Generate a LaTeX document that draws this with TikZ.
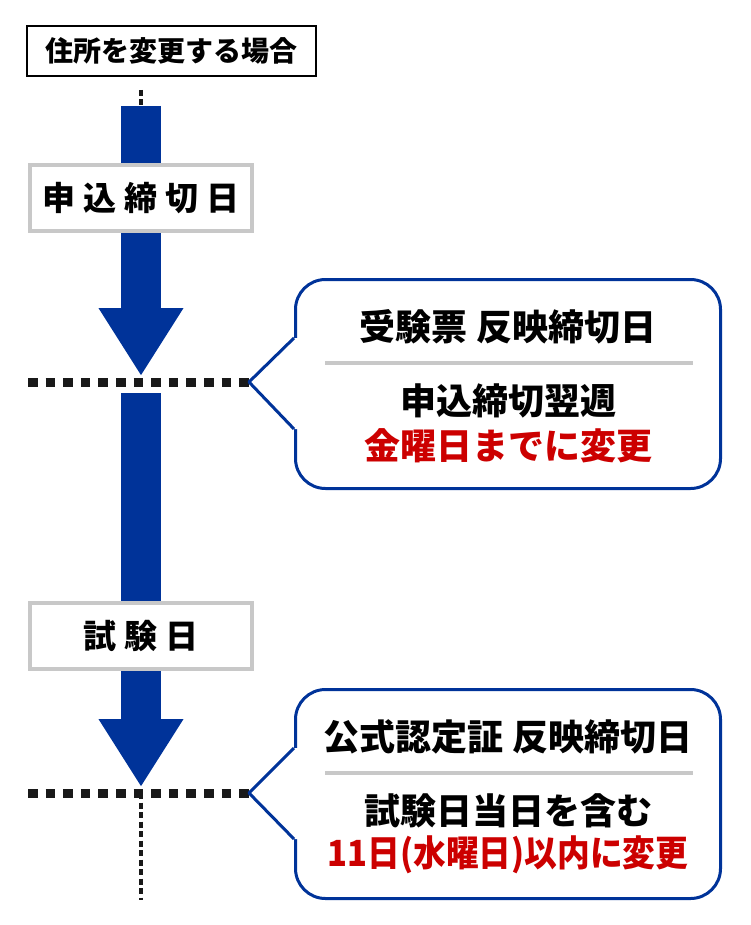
\documentclass[tikz,border=0pt]{standalone}
\usepackage{fontspec}
\setmainfont{Noto Sans CJK JP}
\usepackage{tikz}
\usetikzlibrary{arrows.meta,positioning}
\definecolor{deepblue}{RGB}{0,51,153}
\definecolor{alertred}{RGB}{204,0,0}
\definecolor{boxgray}{RGB}{200,200,200}
\tikzset{
x=1pt, y=-1pt, % pixel units, y runs downwards
timeline/.style={draw=deepblue, line width=40pt, -{Triangle[width=80pt,length=68pt]}}, % the thick blue arrows
bigdots/.style={draw=black!90, line width=9pt, dash pattern=on 9.6pt off 8pt}, % dotted date line
smalldots/.style={draw=black!90, line width=4.5pt, dash pattern=on 6pt off 3.5pt}, % thin dotted line
heading/.style={draw=black, line width=1.5pt, fill=white, minimum width=289pt, minimum height=50pt, font=\bfseries\fontsize{28}{32}\selectfont},
stage/.style={draw=boxgray, line width=4pt, fill=white, minimum width=222pt, minimum height=66pt, font=\bfseries\fontsize{33}{40}\selectfont\addfontfeature{LetterSpace=24}},
note/.style={draw=deepblue, line width=3pt, fill=white, rounded corners=30pt, minimum width=425pt, minimum height=209pt}, % the callouts
notetext/.style={inner sep=0pt, font=\bfseries\fontsize{36}{42}\selectfont},
sepline/.style={draw=boxgray, line width=4pt},
}

\begin{document}
\begin{tikzpicture}
    \useasboundingbox (0,0) rectangle (750,925);
    \node[heading] (head) at (171.5,51) {住所を変更する場合};
    \coordinate (dots) at (141,90);
    \coordinate (start) at (141,106);
    \coordinate (tip1) at (141,376);
    \coordinate (resume) at (141,393);
    \coordinate (tip2) at (141,787);
    \coordinate (left1) at (28,382);
    \coordinate (point1) at (249,382);
    \coordinate (left2) at (28,793);
    \coordinate (point2) at (249,793);
    \coordinate (bottom) at (141,900);

    % blue time arrows
    \draw[smalldots] (dots) -- (start);
    \draw[timeline] (start) -- (tip1);
    \draw[timeline] (resume) -- (tip2);
    \draw[bigdots] (left1) -- (point1);
    \draw[bigdots] (left2) -- (point2);
    \draw[smalldots] (point2 -| bottom) -- (bottom);

    \node[stage] (deadline) at (141,198) {申込締切日};
    \node[stage] (exam) at (141,636) {試験日};

    % callouts
    \node[note] (note1) at (508,384) {};
    \node[note] (note2) at (508,794) {};
    \foreach \n/\p in {note1/point1, note2/point2}{
        \fill[white] ([yshift=46pt]\n.west) -- (\p) -- ([yshift=-45pt]\n.west) -- ([xshift=4pt,yshift=-45pt]\n.west) -- ([xshift=4pt,yshift=46pt]\n.west) -- cycle;
        \draw[deepblue, line width=3pt, line join=round] ([yshift=46pt]\n.west) -- (\p) -- ([yshift=-45pt]\n.west);
        \draw[sepline] ([xshift=-183pt,yshift=21pt]\n.center) -- ([xshift=185pt,yshift=21pt]\n.center);
    }
    \node[notetext] (title1) at ([yshift=57pt]note1.center) {受験票 反映締切日};
    \node[notetext] (when1) at ([yshift=-17pt]note1.center) {申込締切翌週};
    \node[notetext, text=alertred] (do1) at ([yshift=-62pt]note1.center) {金曜日までに変更};
    \node[notetext] (title2) at ([yshift=57pt]note2.center) {公式認定証 反映締切日};
    \node[notetext] (when2) at ([yshift=-17pt]note2.center) {試験日当日を含む};
    \node[notetext, text=alertred] (do2) at ([yshift=-61pt]note2.center) {\scalebox{0.91}[1]{11日(水曜日)以内に変更}};
\end{tikzpicture}
\end{document}
